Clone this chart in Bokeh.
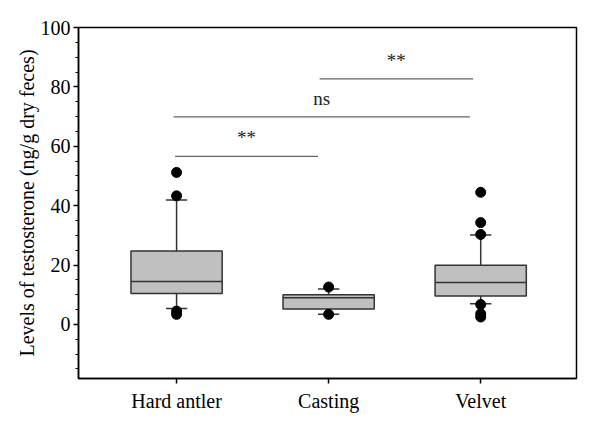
from bokeh.plotting import figure
from bokeh.models import FixedTicker, Range1d, ColumnDataSource
from bokeh.core.properties import value
from bokeh.embed import file_html
from bokeh.resources import INLINE

groups = ["Hard antler", "Casting", "Velvet"]
xpos = [1, 2, 3]
q1 = [10.4, 5.2, 9.6]
median = [14.5, 9.0, 14.1]
q3 = [24.7, 10.0, 19.9]
whisker_low = [5.4, 3.4, 7.0]
whisker_high = [41.9, 11.9, 30.1]
outlier_group = [1, 1, 1, 1, 2, 2, 3, 3, 3, 3, 3, 3]
outlier_value = [51.2, 43.3, 4.5, 3.4, 12.6, 3.4, 44.5, 34.3, 30.3, 6.7, 3.6, 2.5]

comp_start = [0.99, 0.98, 1.94]
comp_end = [1.93, 2.93, 2.95]
comp_height = [56.6, 69.9, 82.7]
comp_label = ["**", "ns", "**"]

FONT = "Liberation Serif"

p = figure(width=600, height=429, output_backend="svg", toolbar_location=None,
           x_range=Range1d(0.355, 3.63), y_range=Range1d(-18.2, 100))
p.min_border_left = 78
p.min_border_right = 24
p.min_border_top = 27
p.min_border_bottom = 51
p.background_fill_color = "white"
p.border_fill_color = "white"
p.outline_line_color = "black"
p.outline_line_width = 1.5
p.xgrid.visible = False
p.ygrid.visible = False

bw = 0.6
cw = 0.14
src = ColumnDataSource(dict(x=xpos, q1=q1, med=median, q3=q3, lo=whisker_low, hi=whisker_high,
                            x0=[x - bw / 2 for x in xpos], x1=[x + bw / 2 for x in xpos],
                            c0=[x - cw / 2 for x in xpos], c1=[x + cw / 2 for x in xpos]))

# whiskers
p.segment(x0="x", y0="q3", x1="x", y1="hi", source=src, line_color="#333333", line_width=1.5)
p.segment(x0="x", y0="q1", x1="x", y1="lo", source=src, line_color="#333333", line_width=1.5)
p.segment(x0="c0", y0="hi", x1="c1", y1="hi", source=src, line_color="#333333", line_width=1.5)
p.segment(x0="c0", y0="lo", x1="c1", y1="lo", source=src, line_color="#333333", line_width=1.5)
# boxes
p.vbar(x="x", width=bw, bottom="q1", top="q3", source=src, fill_color="#c0c0c0",
       line_color="#333333", line_width=1.5)
p.segment(x0="x0", y0="med", x1="x1", y1="med", source=src, line_color="#333333", line_width=1.5)
# outliers
p.scatter(outlier_group, outlier_value, size=10, fill_color="black", line_color="black")

# significance brackets
p.segment(x0=comp_start, y0=comp_height, x1=comp_end, y1=comp_height,
          line_color="#666666", line_width=1.2)
mid = [(a + b) / 2 for a, b in zip(comp_start, comp_end)]
p.text(x=mid, y=[h + 2.8 for h in comp_height], text=comp_label, text_font=value(FONT),
       text_font_size="19px", text_align="center", text_baseline="bottom", text_color="#222222")

# axes
p.xaxis.ticker = FixedTicker(ticks=xpos)
p.xaxis.major_label_overrides = {x: g for x, g in zip(xpos, groups)}
p.yaxis.ticker = FixedTicker(ticks=[0, 20, 40, 60, 80, 100],
                             minor_ticks=list(range(-15, 101, 5)))
for ax in (p.xaxis[0], p.yaxis[0]):
    ax.axis_line_color = "black"
    ax.axis_line_width = 1.5
    ax.major_tick_line_color = "black"
    ax.major_tick_line_width = 1.5
    ax.major_tick_in = 0
    ax.major_tick_out = 5
    ax.major_label_text_font = FONT
    ax.major_label_text_font_size = "20px"
    ax.major_label_text_color = "black"
p.xaxis.minor_tick_line_color = None
p.yaxis.minor_tick_line_color = "black"
p.yaxis.minor_tick_line_width = 1.2
p.yaxis.minor_tick_in = 0
p.yaxis.minor_tick_out = 3
p.xaxis.major_label_standoff = 6
p.yaxis.major_label_standoff = 3
p.yaxis.axis_label = "Levels of testosterone (ng/g dry feces)"
p.yaxis.axis_label_text_font = FONT
p.yaxis.axis_label_text_font_size = "20px"
p.yaxis.axis_label_text_font_style = "normal"
p.yaxis.axis_label_text_color = "black"
p.yaxis.axis_label_standoff = 0

open("out.html", "w").write(file_html(p, INLINE))
